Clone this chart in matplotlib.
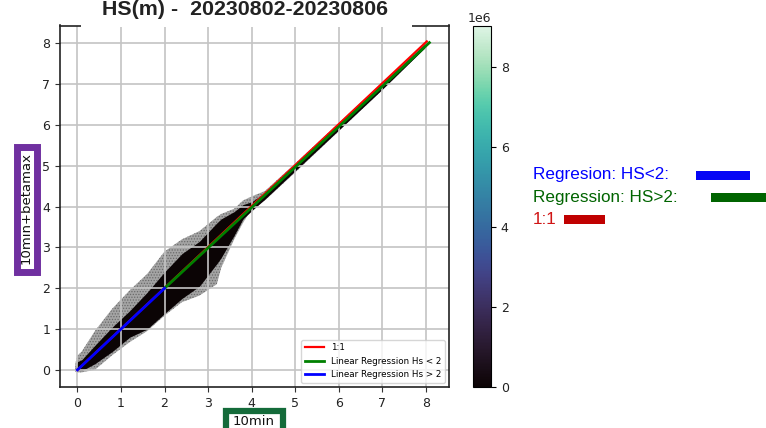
import matplotlib
matplotlib.use("Agg")
import matplotlib.pyplot as plt
import seaborn as sns
from matplotlib.patches import Rectangle
from matplotlib.colors import Normalize
from matplotlib.cm import ScalarMappable

# Hs 10min vs 10min+betamax: outline of the point cloud (outer fringe and dense core)
cloud_x = [-0.05, 0.0, 0.1, 0.4, 0.8, 1.2, 1.6, 2.0, 2.4, 2.8, 3.2, 3.3, 3.6, 3.8, 4.0, 4.3, 5.0, 6.0, 7.0, 8.0]
fringe_hi = [0.15, 0.35, 0.45, 0.95, 1.5, 1.95, 2.35, 2.9, 3.2, 3.4, 3.75, 3.82, 3.95, 4.15, 4.25, 4.38, 5.06, 6.05, 7.04, 8.02]
fringe_lo = [-0.05, -0.06, -0.06, 0.0, 0.36, 0.68, 0.95, 1.33, 1.66, 1.82, 2.1, 2.5, 3.2, 3.6, 3.95, 4.15, 4.84, 5.85, 6.86, 7.9]
core_hi = [0.05, 0.2, 0.25, 0.6, 1.05, 1.45, 1.9, 2.4, 2.85, 3.15, 3.6, 3.7, 3.88, 4.05, 4.12, 4.34, 5.03, 6.03, 7.02, 8.0]
core_lo = [0.0, 0.0, -0.02, 0.15, 0.45, 0.8, 1.0, 1.38, 1.75, 2.05, 2.6, 2.75, 3.3, 3.7, 3.9, 4.18, 4.88, 5.88, 6.88, 7.92]

# reference and regression lines
one_x, one_y = [0.0, 8.02], [0.0, 8.05]
reg_hi_x, reg_hi_y = [2.0, 8.08], [2.0, 8.02]
reg_lo_x, reg_lo_y = [0.0, 2.0], [0.0, 2.0]

# colour scale (point counts)
count_max = 9.02e6
cbar_ticks = [0, 2e6, 4e6, 6e6, 8e6]

ticks = [0, 1, 2, 3, 4, 5, 6, 7, 8]
title = "HS(m) -  20230802-20230806"

W, H = 766, 428
fig = plt.figure(figsize=(W / 100, H / 100), dpi=100)
ax = fig.add_axes([60 / W, 1 - 387 / H, 389 / W, 361.5 / H])
cax = fig.add_axes([473 / W, 1 - 387 / H, 18 / W, 361 / H])

cmap = sns.color_palette("mako", as_cmap=True)
dark = cmap(0.0)

plt.rcParams["hatch.linewidth"] = 0.6
ax.fill_between(cloud_x, fringe_lo, fringe_hi, facecolor="#a4a4a4", edgecolor="#6a6a6a",
                hatch="......", lw=0, zorder=1)
ax.fill_between(cloud_x, core_lo, core_hi, color=dark, lw=0, zorder=1.1)

ax.plot(one_x, one_y, color="red", lw=1.6, label="1:1", zorder=3)
ax.plot(reg_hi_x, reg_hi_y, color="green", lw=2, label="Linear Regression Hs < 2", zorder=3)
ax.plot(reg_lo_x, reg_lo_y, color="blue", lw=2, label="Linear Regression Hs > 2", zorder=3)

ax.set_xlim(-0.4, 8.53)
ax.set_ylim(-0.42, 8.44)
ax.set_xticks(ticks)
ax.set_yticks(ticks)
ax.tick_params(labelsize=9, colors="#333333", labelcolor="#222222")
ax.grid(True, color="#c4c4c4", lw=1.2, zorder=2)
for s in ax.spines.values():
    s.set_linewidth(1.2)
    s.set_color("#222222")

ax.legend(loc="lower right", fontsize=6.3, framealpha=0.8, handlelength=2.2)

# axis labels, each framed by a thick coloured box
ax.set_ylabel("10min+betamax", fontsize=9.5, va="center", color="#111111")
ax.yaxis.set_label_coords((26.5 - 60) / 389, (387 - 208) / 361.5)
ax.set_xlabel("10min", fontsize=9.5, va="baseline", color="#111111")
ax.xaxis.set_label_coords((253.5 - 60) / 389, (387 - 425) / 361.5)

fig.add_artist(Rectangle((16.5 / W, 1 - 271.5 / H), 20 / W, 125 / H, transform=fig.transFigure,
                         fc="none", ec="#7030a0", lw=5.0, zorder=4))
fig.add_artist(Rectangle((225.7 / W, 1 - 445 / H), 57.3 / W, 34.3 / H, transform=fig.transFigure,
                         fc="none", ec="#146b3a", lw=4.5, zorder=4))

# colour bar
sm = ScalarMappable(norm=Normalize(0, count_max), cmap=cmap)
cb = fig.colorbar(sm, cax=cax, ticks=cbar_ticks)
cb.ax.tick_params(labelsize=9, labelcolor="#222222")
cb.ax.yaxis.get_offset_text().set_fontsize(9)

# title on a white strip that hides the middle of the top spine
fig.add_artist(Rectangle((81 / W, 1 - 27 / H), 331 / W, 27 / H, transform=fig.transFigure,
                         fc="white", ec="none", zorder=5))
fig.text(244.5 / W, 1 - 15 / H, title, ha="center", va="baseline", fontsize=15.4,
         fontweight="bold", family="Liberation Sans", color="#222222", zorder=6)

# key on the right
key = [("Regresion: HS<2:", "blue", "#0505f5", 175, 696, 54),
       ("Regression: HS>2:", "darkgreen", "#006400", 197.5, 711, 60),
       ("1:1", "#d01515", "#c00000", 219, 564, 41)]
for txt, tc, bc, yc, bx, bw in key:
    fig.text(533 / W, 1 - yc / H, txt, color=tc, fontsize=12.3, family="Liberation Sans",
             ha="left", va="center")
    fig.add_artist(Rectangle((bx / W, 1 - (yc + 4.5) / H), bw / W, 9 / H,
                             transform=fig.transFigure, fc=bc, ec="none"))

fig.savefig("out.png", dpi=100)
